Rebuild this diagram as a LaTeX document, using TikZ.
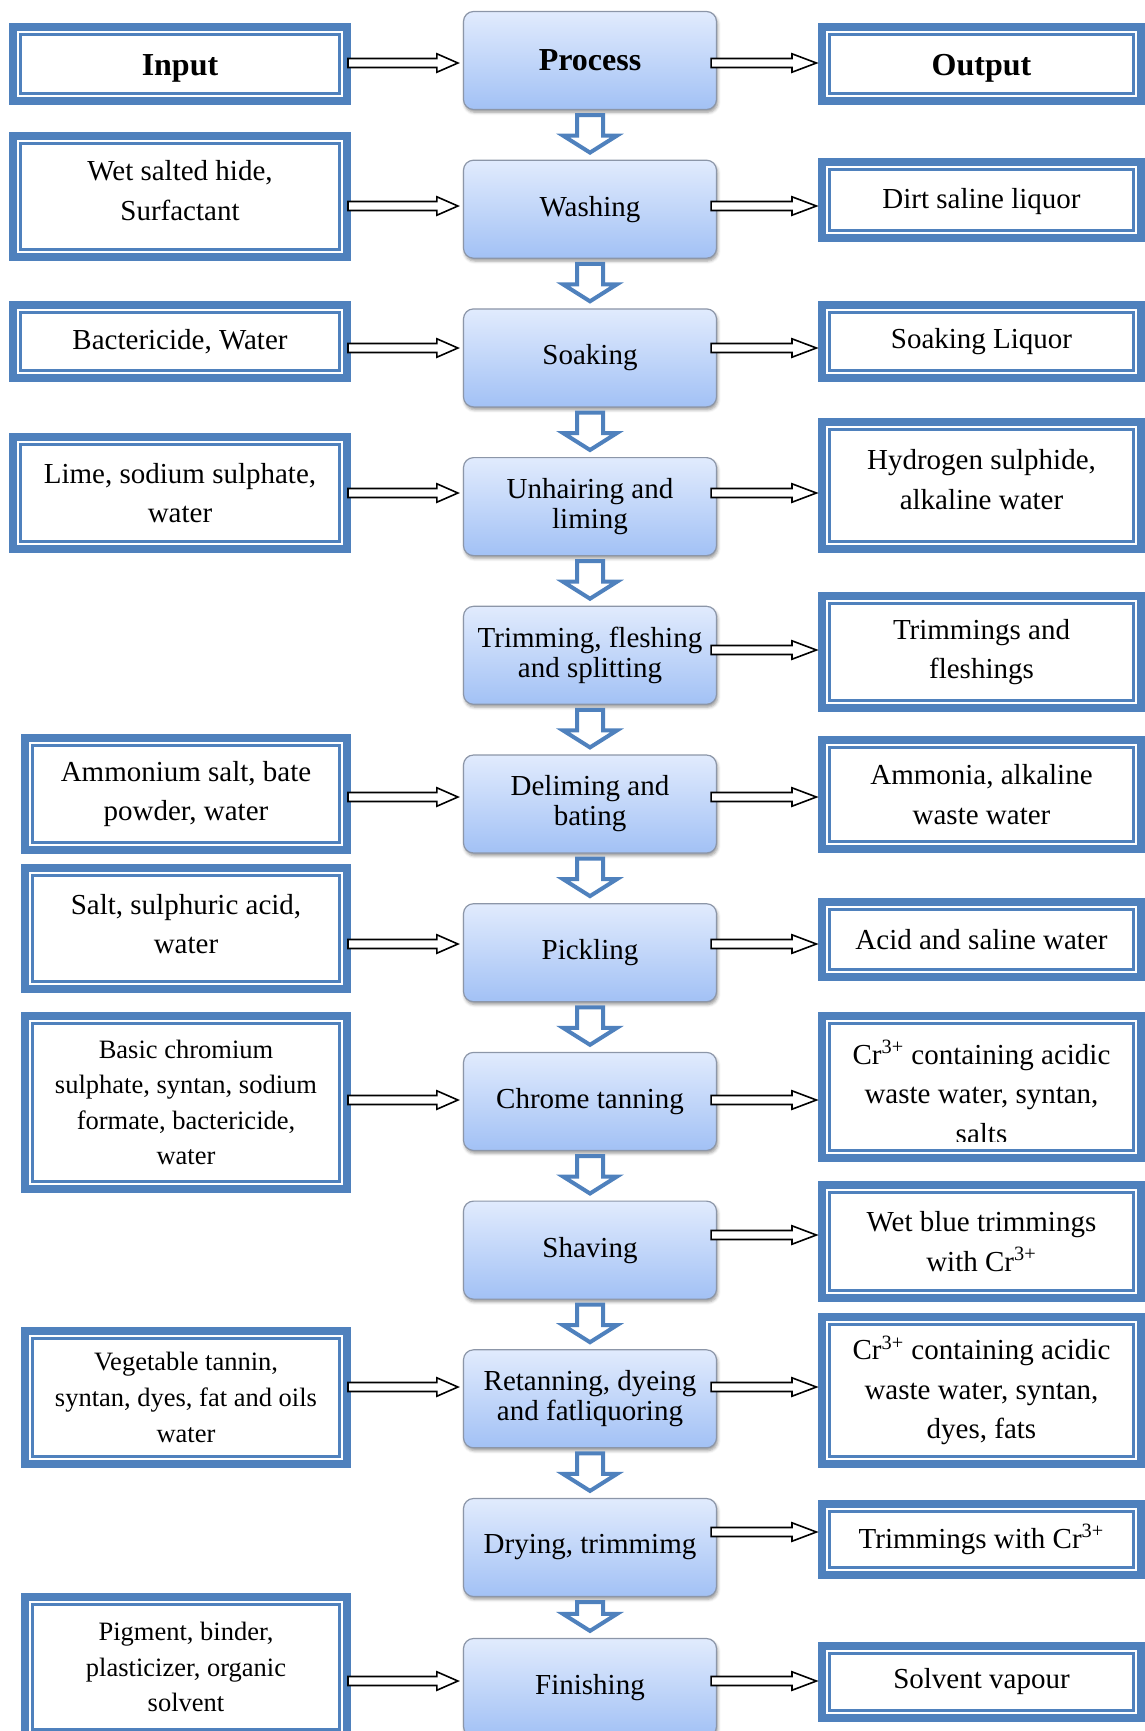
\documentclass[tikz,border=0pt]{standalone}
\usepackage{fontspec}
\setmainfont{Liberation Serif}
\usetikzlibrary{calc, shadows.blur}

\definecolor{frameblue}{HTML}{4F81BD}
\definecolor{proctop}{HTML}{E1EBFD}
\definecolor{procbot}{HTML}{A2C1F5}
\definecolor{procedge}{HTML}{8C96A8}

\tikzset{
  boxtext/.style={align=center, font=\fontsize{14.5}{19.75}\selectfont},
  smalltext/.style={font=\fontsize{13.25}{17.8}\selectfont},
  headtext/.style={font=\fontsize{16}{19}\selectfont\bfseries},
  sidebox/.style={draw=frameblue, line width=4pt, fill=white, inner sep=0pt,
    minimum width=#1, boxtext,
    path picture={\draw[frameblue, line width=1.25pt]
      ([shift={(3.75pt,3.75pt)}]path picture bounding box.south west) rectangle
      ([shift={(-3.75pt,-3.75pt)}]path picture bounding box.north east);}},
  procbox/.style={rectangle, rounded corners=5pt, draw=procedge, line width=0.6pt,
    top color=proctop, bottom color=procbot, minimum width=126.5pt,
    minimum height=49pt, inner sep=0pt, align=center,
    font=\fontsize{14.5}{15}\selectfont,
    blur shadow={shadow xshift=0.6pt, shadow yshift=-1.4pt,
      shadow blur radius=1.5pt, shadow opacity=40}},
  flowarrow/.style 2 args={draw=black, line width=0.8pt, fill=white,
    to path={let \p1=(\tikztostart), \p2=(\tikztotarget) in
      (\x1-#1,\y1+2.25pt) -- (\x2-13pt,\y1+2.25pt) -- (\x2-13pt,\y1+4.6pt)
      -- (\x2-#2,\y1) -- (\x2-13pt,\y1-4.6pt) -- (\x2-13pt,\y1-2.25pt)
      -- (\x1-#1,\y1-2.25pt) -- cycle}},
  stepdown/.style={draw=frameblue, line width=2pt, fill=white,
    to path={let \p1=(\tikztostart), \p2=(\tikztotarget) in
      (\x1-6.5pt,\y1-2.5pt) -- (\x1-6.5pt,\y2+12pt) -- (\x1-13.5pt,\y2+12pt)
      -- (\x1,\y2+3.5pt) -- (\x1+13.5pt,\y2+12pt) -- (\x1+6.5pt,\y2+12pt)
      -- (\x1+6.5pt,\y1-2.5pt) -- cycle}}
}

\begin{document}
\begin{tikzpicture}[x=0.5pt, y=-0.5pt]
\useasboundingbox (0,0) rectangle (1145,1731);

% process column
\node[procbox, headtext] (pr0) at (590,60.5) {Process};
\node[procbox] (pr1) at (590,209.2) {Washing};
\node[procbox] (pr2) at (590,357.9) {Soaking};
\node[procbox] (pr3) at (590,506.6) {Unhairing and\\liming};
\node[procbox] (pr4) at (590,655.3) {Trimming, fleshing\\and splitting};
\node[procbox] (pr5) at (590,804) {Deliming and\\bating};
\node[procbox] (pr6) at (590,952.7) {Pickling};
\node[procbox] (pr7) at (590,1101.4) {Chrome tanning};
\node[procbox] (pr8) at (590,1250.1) {Shaving};
\node[procbox] (pr9) at (590,1398.8) {Retanning, dyeing\\and fatliquoring};
\node[procbox] (pr10) at (590,1547.5) {Drying, trimmimg};
\node[procbox] (pr11) at (590,1687.5) {Finishing};

% input column
\node[sidebox=167pt, minimum height=37pt, headtext, text height=14.5pt] (in0) at (180,64) {Input};
\node[sidebox=167pt, minimum height=60.5pt, text depth=6pt] (in1) at (180,196.5) {Wet salted hide,\\Surfactant};
\node[sidebox=167pt, minimum height=36.5pt] (in2) at (180,341.5) {Bactericide, Water};
\node[sidebox=167pt, minimum height=56pt] (in3) at (180,493) {Lime, sodium sulphate,\\water};
\node[sidebox=161pt, minimum height=56pt] (in5) at (186,794) {Ammonium salt, bate\\powder, water};
\node[sidebox=161pt, minimum height=60.5pt, text depth=4.5pt] (in6) at (186,928.5) {Salt, sulphuric acid,\\water};
\node[sidebox=161pt, minimum height=86.5pt, smalltext] (in7) at (186,1102.5) {Basic chromium\\sulphate, syntan, sodium\\formate, bactericide,\\water};
\node[sidebox=161pt, minimum height=66.5pt, smalltext] (in9) at (186,1397.5) {Vegetable tannin,\\syntan, dyes, fat and oils\\water};
\node[sidebox=161pt, minimum height=70pt, smalltext] (in11) at (186,1667) {Pigment, binder,\\plasticizer, organic\\solvent};

% output column
\node[sidebox=159.5pt, minimum height=37pt, headtext, text height=14.5pt] (out0) at (981.5,64) {Output};
\node[sidebox=159.5pt, minimum height=38pt, text height=12pt] (out1) at (981.5,200) {Dirt saline liquor};
\node[sidebox=159.5pt, minimum height=36.5pt] (out2) at (981.5,341.5) {Soaking Liquor};
\node[sidebox=159.5pt, minimum height=63.5pt, text depth=6pt] (out3) at (981.5,485.5) {Hydrogen sulphide,\\alkaline water};
\node[sidebox=159.5pt, minimum height=56pt] (out4) at (981.5,652) {Trimmings and\\fleshings};
\node[sidebox=159.5pt, minimum height=54.5pt] (out5) at (981.5,794.5) {Ammonia, alkaline\\waste water};
\node[sidebox=159.5pt, minimum height=37.5pt] (out6) at (981.5,939.5) {Acid and saline water};
\node[sidebox=159.5pt, minimum height=71pt] (out7) at (981.5,1087) {};
\begin{scope}
  \clip ([shift={(3pt,-3pt)}]out7.north west) rectangle ([shift={(-3pt,10.5pt)}]out7.south east);
  \node[boxtext] (out7text) at ([yshift=-2.5pt]out7.center) {Cr\textsuperscript{3+} containing acidic\\waste water, syntan,\\salts};
\end{scope}
\node[sidebox=159.5pt, minimum height=56.5pt] (out8) at (981.5,1241.5) {Wet blue trimmings\\with Cr\textsuperscript{3+}};
\node[sidebox=159.5pt, minimum height=73.5pt] (out9) at (981.5,1390.5) {Cr\textsuperscript{3+} containing acidic\\waste water, syntan,\\dyes, fats};
\node[sidebox=159.5pt, minimum height=35.5pt] (out10) at (981.5,1539.5) {Trimmings with Cr\textsuperscript{3+}};
\node[sidebox=159.5pt, minimum height=36pt] (out11) at (981.5,1682) {Solvent vapour};

% arrows
\foreach \i/\y in {0/63,1/206,2/348,3/493,4/650,5/797,6/944,7/1100,8/1235,9/1387,10/1532,11/1681}
  \coordinate (r\i) at (0,\y);
\foreach \i [count=\j from 1] in {0,...,10}
  \draw[stepdown] (pr\i.south) to (pr\j.north);
\foreach \i in {0,1,2,3,5,6,7,9,11}
  \draw[flowarrow={1.5pt}{2.5pt}] (in\i.east |- r\i) to (pr\i.west |- r\i);
\foreach \i in {0,...,11}
  \draw[flowarrow={3pt}{0.8pt}] (pr\i.east |- r\i) to (out\i.west |- r\i);
\end{tikzpicture}
\end{document}
